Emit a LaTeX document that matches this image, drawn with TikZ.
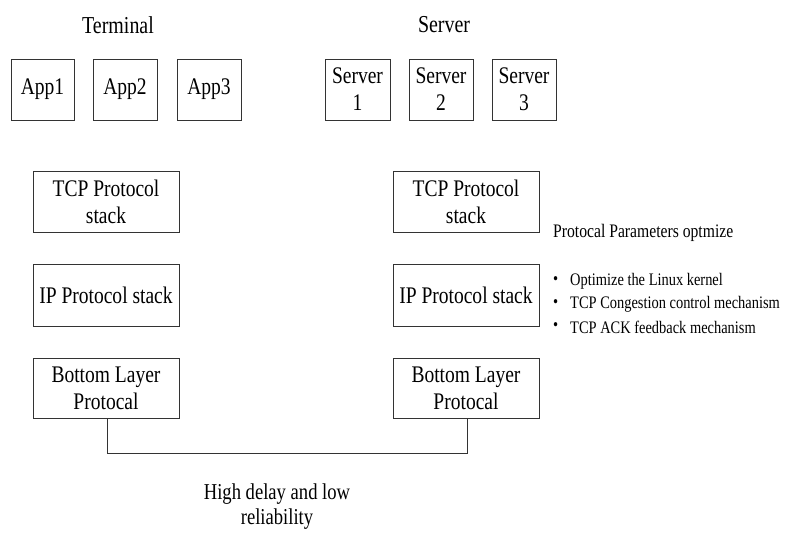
\documentclass[tikz,border=0pt]{standalone}
\usepackage{fontspec}
\setmainfont{Liberation Serif}[FakeStretch=0.82]
\begin{document}
\begin{tikzpicture}[x=1pt,y=-1pt,
  box/.style={draw=black!80, line width=0.8pt, fill=white, align=center,
    inner sep=1pt, font=\fontsize{23.8}{27}\selectfont},
  smallbox/.style={box, minimum width=64pt, minimum height=61pt},
  layer/.style={box, minimum width=146pt, minimum height=61pt},
  title/.style={font=\fontsize{24.3}{27}\selectfont, inner sep=0pt},
  note/.style={font=\fontsize{19.1}{22}\selectfont, inner sep=0pt, anchor=west},
  item/.style={font=\fontsize{17.6}{20}\selectfont, inner sep=0pt, anchor=west},
  link/.style={draw=black!80, line width=0.8pt}]
\useasboundingbox (0,0) rectangle (806,536);

% group titles
\node[title] (term) at (118,25) {Terminal};
\node[title] (serv) at (444,25) {Server};

% applications and servers
\node[smallbox, minimum width=63pt] (app1) at (42.5,89.5) {App1};
\node[smallbox] (app2) at (125,89.5) {App2};
\node[smallbox] (app3) at (209,89.5) {App3};
\node[smallbox, minimum width=65pt] (srv1) at (357.5,89.5) {Server\\1};
\node[smallbox] (srv2) at (441,89.5) {Server\\2};
\node[smallbox] (srv3) at (524,89.5) {Server\\3};

% protocol layers, terminal side
\node[layer] (tcpl) at (106,201.5) {TCP Protocol\\stack};
\node[layer, minimum height=62pt] (ipl) at (106,295) {IP Protocol stack};
\node[layer, minimum height=60pt] (botl) at (106,388) {Bottom Layer\\Protocal};

% protocol layers, server side
\node[layer] (tcpr) at (466,201.5) {TCP Protocol\\stack};
\node[layer, minimum height=62pt] (ipr) at (466,295) {IP Protocol stack};
\node[layer, minimum height=60pt] (botr) at (466,388) {Bottom Layer\\Protocal};

% optimisation notes
\node[note] (opt) at (553,233) {Protocal Parameters optmize};
\node[item] (b1) at (553,281) {\textbullet};
\node[item] (b2) at (553,304) {\textbullet};
\node[item] (b3) at (553,327) {\textbullet};
\node[item] (i1) at (570,281) {Optimize the Linux kernel};
\node[item] (i2) at (570,304) {TCP Congestion control mechanism};
\node[item] (i3) at (570,327) {TCP ACK feedback mechanism};

% physical link between the two bottom layers
\coordinate (jl) at (107,453);
\coordinate (jr) at (467,453);
\draw[link] (botl.south -| jl) -- (jl) -- (jr) -- (botr.south -| jr);

\node[font=\fontsize{22.7}{25}\selectfont, align=center, inner sep=0pt] (lbl) at (277,507) {High delay and low\\reliability};
\end{tikzpicture}
\end{document}
